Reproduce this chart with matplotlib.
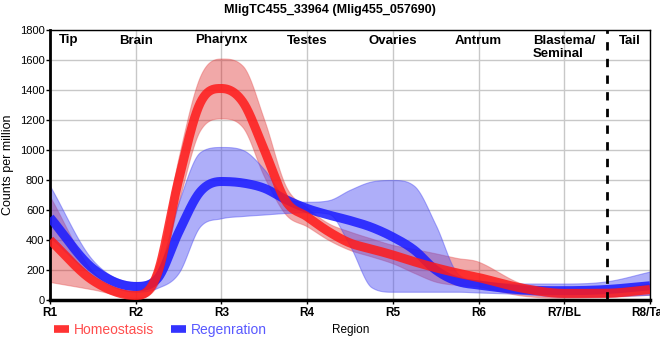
import numpy as np
import matplotlib
matplotlib.use("Agg")
import matplotlib.pyplot as plt
from matplotlib.lines import Line2D

plt.rcParams['font.family'] = ['Liberation Sans', 'DejaVu Sans']

title = "MligTC455_33964 (Mlig455_057690)"
tick_labels = ["R1", "R2", "R3", "R4", "R5", "R6", "R7/BL", "R8/Tail"]
region_names = ["Tip", "Brain", "Pharynx", "Testes", "Ovaries", "Antrum", "Blastema/\nSeminal", "Tail"]
region_pos = [0.22, 1.0, 2.0, 3.0, 4.0, 5.0, 6.0, 6.77]
boundary_pos = 6.5

# knot positions (0 = R1 ... 7 = R8)
knots = [0, 0.5, 1, 1.25, 1.5, 1.75, 2, 2.25, 2.5, 2.75, 3, 3.25, 3.5, 3.75,
         4, 4.25, 4.5, 4.75, 5, 5.5, 6, 6.5, 7]

homeo_mean = [400, 130, 30, 170, 800, 1310, 1410, 1320, 1000, 660, 555, 456, 380, 340,
              300, 255, 215, 180, 150, 80, 44, 45, 70]
homeo_upper = [690, 190, 60, 250, 950, 1490, 1610, 1560, 1200, 760, 615, 511, 456, 410,
               367, 340, 311, 280, 255, 110, 70, 75, 110]
homeo_lower = [120, 70, 15, 100, 650, 1130, 1210, 1150, 820, 570, 490, 400, 333, 290,
               244, 180, 122, 100, 89, 30, 15, 20, 35]

regen_mean = [550, 210, 90, 140, 450, 720, 790, 780, 745, 670, 610, 567, 530, 485,
              420, 333, 200, 125, 100, 68, 62, 70, 95]
regen_upper = [760, 265, 120, 190, 650, 985, 1020, 1000, 870, 680, 655, 665, 735, 790,
               800, 760, 500, 180, 130, 110, 110, 125, 190]
regen_lower = [420, 165, 55, 80, 180, 490, 545, 560, 570, 580, 585, 575, 360, 85,
               55, 55, 55, 55, 50, 40, 22, 25, 35]


def smooth(x, y, xs):
    """Cubic Hermite curve through the knots with centred tangents,
    flattened at local extrema and limited to avoid overshoot."""
    x = np.asarray(x, float)
    y = np.asarray(y, float)
    h = np.diff(x)
    d = np.diff(y) / h
    n = len(x)
    m = np.zeros(n)
    for k in range(1, n - 1):
        if d[k - 1] * d[k] <= 0:
            m[k] = 0.0
        else:
            c = (y[k + 1] - y[k - 1]) / (x[k + 1] - x[k - 1])
            lim = 3 * min(abs(d[k - 1]), abs(d[k]))
            m[k] = np.sign(c) * min(abs(c), lim)
    m[0] = d[0]
    m[-1] = d[-1]
    idx = np.clip(np.searchsorted(x, xs) - 1, 0, n - 2)
    t = (xs - x[idx]) / h[idx]
    h00 = 2 * t**3 - 3 * t**2 + 1
    h10 = t**3 - 2 * t**2 + t
    h01 = -2 * t**3 + 3 * t**2
    h11 = t**3 - t**2
    return h00 * y[idx] + h10 * h[idx] * m[idx] + h01 * y[idx + 1] + h11 * h[idx] * m[idx + 1]


xs = np.linspace(0, 7, 1000)

fig = plt.figure(figsize=(6.6, 3.6), dpi=100)
ax = fig.add_axes([50 / 660, 60 / 360, 600 / 660, 270 / 360])

red = (1.0, 0.1, 0.1)
blue = (0.1, 0.1, 1.0)

ax.fill_between(xs, smooth(knots, homeo_lower, xs), smooth(knots, homeo_upper, xs),
                color=(0.86, 0.1, 0.1), alpha=0.38, lw=0.8, edgecolor=(0.9, 0.3, 0.3, 0.5), zorder=2)
ax.fill_between(xs, smooth(knots, regen_lower, xs), smooth(knots, regen_upper, xs),
                color=(0.3, 0.3, 0.95), alpha=0.45, lw=0.8, edgecolor=(0.3, 0.3, 0.95, 0.5), zorder=2)
ax.plot(xs, smooth(knots, regen_mean, xs), color=blue, lw=6.5, alpha=0.85,
        solid_capstyle='butt', zorder=3)
ax.plot(xs, smooth(knots, homeo_mean, xs), color=red, lw=6.5, alpha=0.85,
        solid_capstyle='butt', zorder=4)

ax.axvline(boundary_pos, color='black', lw=2, ls=(0, (3, 3)), zorder=5)

ax.set_xlim(0, 7)
ax.set_ylim(0, 1800)
ax.set_yticks(np.arange(0, 1801, 200))
ax.set_xticks(range(8))
ax.set_xticklabels(tick_labels, fontsize=8.5, fontweight='bold')
ax.tick_params(axis='y', labelsize=8, length=3, width=1, pad=1)
ax.tick_params(axis='x', length=3, width=1, pad=2)
ax.grid(True, color='#c8c8c8', lw=1)
ax.set_axisbelow(True)
for side in ['top', 'right']:
    ax.spines[side].set_linewidth(1)
ax.spines['left'].set_linewidth(2)
ax.spines['bottom'].set_linewidth(2.5)

for name, p in zip(region_names, region_pos):
    ax.text(p, 1770, name, ha='center', va='top', fontsize=9.5, fontweight='bold',
            multialignment='left', zorder=6)

ax.set_ylabel("Counts per million", fontsize=9, labelpad=4)
fig.text(351 / 660, 1 - 330 / 360, "Region", ha='center', va='center', fontsize=8.5)
fig.text(330 / 660, 1 - 10 / 360, title, ha='center', va='center', fontsize=9, fontweight='bold')

handles = [Line2D([], [], color=(1, 0.2, 0.2), lw=5.5, solid_capstyle='butt'),
           Line2D([], [], color=(0.2, 0.2, 1), lw=5.5, solid_capstyle='butt')]
leg = fig.legend(handles, ["Homeostasis", "Regenration"], loc='center left',
                 bbox_to_anchor=(41 / 660, 1 - 330 / 360), ncol=2, frameon=False,
                 handlelength=1.1, handletextpad=0.35, columnspacing=1.2, fontsize=10)
for txt, c in zip(leg.get_texts(), [(1, 0.3, 0.3), (0.35, 0.35, 1)]):
    txt.set_color(c)

fig.savefig("out.png", dpi=100)
